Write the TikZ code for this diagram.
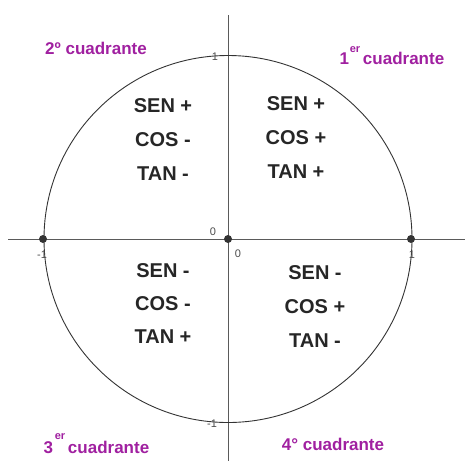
\documentclass[tikz,border=0pt]{standalone}
\usepackage{fontspec}
\setmainfont{Liberation Sans}
\definecolor{quad}{RGB}{160,32,160}
\definecolor{axisgray}{RGB}{90,90,90}
\begin{document}
\begin{tikzpicture}[x=1pt,y=-1pt,
  sign/.style={font=\fontsize{20}{24}\selectfont\bfseries, text=black!85},
  quadlbl/.style={font=\fontsize{17}{20}\selectfont\bfseries, text=quad},
  sup/.style={font=\fontsize{11}{13}\selectfont\bfseries, text=quad, inner sep=0pt},
  tick/.style={font=\fontsize{11}{13}\selectfont, text=black!70, inner sep=0pt},
  pt/.style={circle, fill=black!80, inner sep=0pt, minimum size=8pt}]
\useasboundingbox (0,0) rectangle (465,461);
\draw[axisgray, line width=1pt] (8,239) -- (465,239);
\draw[axisgray, line width=1pt] (228,15) -- (228,461);
\draw[black!80, line width=0.9pt] (228,239) ellipse [x radius=184, y radius=183.5];
\node[pt] (pl) at (43,239) {};
\node[pt] (po) at (228,239) {};
\node[pt] (pr) at (411,239) {};
\node[tick] (t1) at (215,57) {1};
\node[tick] (t0a) at (213,232) {0};
\node[tick] (t0b) at (238,254) {0};
\node[tick] (tl) at (42,255) {-1};
\node[tick] (tr) at (412,255) {1};
\node[tick] (tb) at (212,424) {-1};
% quadrant signs
\node[sign] (a1) at (163,106) {SEN +};
\node[sign] (a2) at (163,140) {COS -};
\node[sign] (a3) at (163,174) {TAN -};
\node[sign] (b1) at (296,104) {SEN +};
\node[sign] (b2) at (296,138) {COS +};
\node[sign] (b3) at (296,172) {TAN +};
\node[sign] (c1) at (163,271) {SEN -};
\node[sign] (c2) at (163,304) {COS -};
\node[sign] (c3) at (163,337) {TAN +};
\node[sign] (d1) at (315,273) {SEN -};
\node[sign] (d2) at (315,307) {COS +};
\node[sign] (d3) at (315,341) {TAN -};
% quadrant names
\node[quadlbl] (q2) at (96,48) {2º cuadrante};
\node[quadlbl, anchor=west] (q1) at (336,58) {1\hspace{14pt}cuadrante};
\node[sup] (q1s) at (355,50) {er};
\node[quadlbl, anchor=west] (q3) at (40,447) {3\hspace{15pt}cuadrante};
\node[sup] (q3s) at (60,437) {er};
\node[quadlbl] (q4) at (333,444) {4° cuadrante};
\end{tikzpicture}
\end{document}
